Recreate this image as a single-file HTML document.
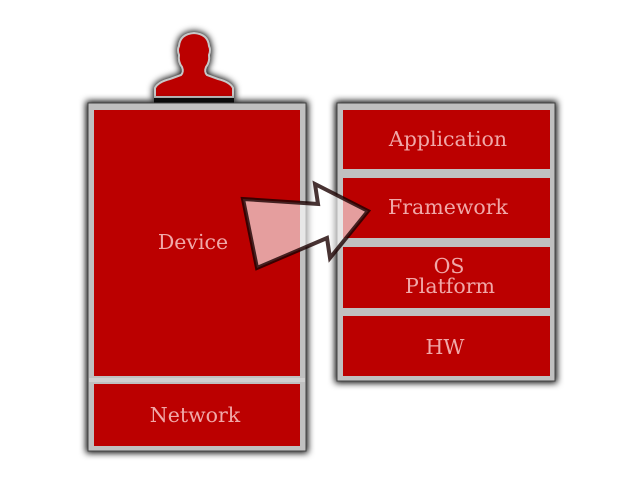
<!DOCTYPE html>
<html><head><style>html,body{margin:0;padding:0;background:#fff}svg{display:block}</style></head>
<body>
<svg width="640" height="480" viewBox="0 0 640 480" xmlns="http://www.w3.org/2000/svg">
<defs>
<filter id="sh" x="-20%" y="-20%" width="140%" height="140%"><feGaussianBlur stdDeviation="3.5"/></filter>
</defs>
<g font-family="DejaVu Serif, Liberation Serif, serif" font-size="20.5" fill="#f0a8a8" text-anchor="middle">
<!-- person -->
<g>
<path d="M155,100 L155,88 Q158,82 170,79 L181,75 Q184,72 182,67 Q178,62 179,55 Q177,50 179,46 Q180,34 194,33 Q208,34 209,46 Q211,50 209,55 Q210,62 206,67 Q204,72 207,75 L218,79 Q230,82 233,88 L233,100 Z" fill="#000" stroke="#000" stroke-width="4" filter="url(#sh)"/>
<rect x="154" y="96" width="80" height="7" fill="#111"/>
<path d="M155,97 L155,88 Q158,82 170,79 L181,75 Q184,72 182,67 Q178,62 179,55 Q177,50 179,46 Q180,34 194,33 Q208,34 209,46 Q211,50 209,55 Q210,62 206,67 Q204,72 207,75 L218,79 Q230,82 233,88 L233,97 Z" fill="#bb0000" stroke="#c8c8c8" stroke-width="2"/>
</g>
<!-- left box -->
<rect x="86" y="101" width="222" height="352" fill="#000" filter="url(#sh)"/>
<rect x="88" y="103" width="218" height="348" fill="#c0c0c0" stroke="#444" stroke-width="1"/>
<rect x="94" y="110" width="206" height="266" fill="#bb0000"/>
<rect x="94" y="384" width="206" height="62" fill="#bb0000"/>
<rect x="89" y="378" width="216" height="4" fill="#d0d0d0"/>
<text x="193" y="249">Device</text>
<text x="195" y="422">Network</text>
<!-- right box -->
<rect x="335" y="101" width="222" height="282" fill="#000" filter="url(#sh)"/>
<rect x="337" y="103" width="218" height="278" fill="#c0c0c0" stroke="#444" stroke-width="1"/>
<rect x="343" y="110" width="207" height="59" fill="#bb0000"/>
<rect x="343" y="178" width="207" height="60" fill="#bb0000"/>
<rect x="343" y="247" width="207" height="61" fill="#bb0000"/>
<rect x="343" y="316" width="207" height="60" fill="#bb0000"/>
<text x="448" y="146">Application</text>
<text x="448" y="214">Framework</text>
<text x="449" y="273">OS</text>
<text x="450" y="293">Platform</text>
<text x="445" y="354">HW</text>
<!-- arrow -->
<polygon points="243,199 318,204 315,184 368,211 330,258 327,238 257,268" fill="#fff" fill-opacity="0.62" stroke="#1a0000" stroke-opacity="0.8" stroke-width="4" stroke-linejoin="miter"/>
</g>
</svg>
</body></html>
